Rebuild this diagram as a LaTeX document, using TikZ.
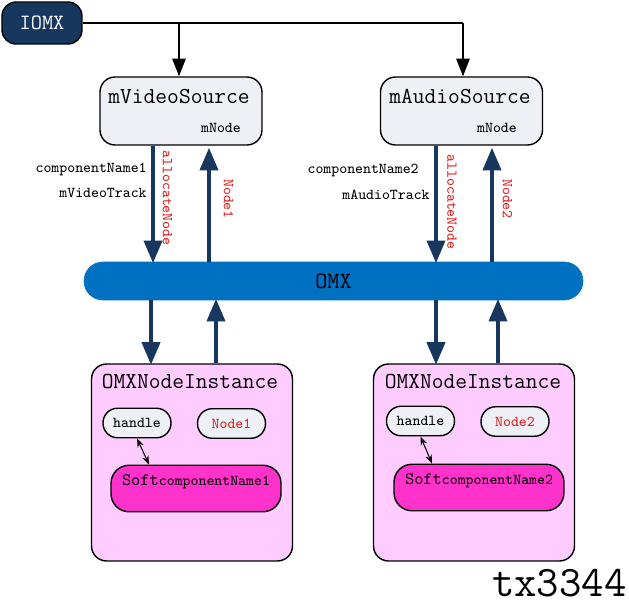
\documentclass[tikz,border=0pt]{standalone}
\usepackage{fontspec}
\usetikzlibrary{arrows.meta, positioning}

\definecolor{navy}{HTML}{17375E}
\definecolor{omxblue}{HTML}{0070C0}
\definecolor{boxgray}{HTML}{EEF0F5}
\definecolor{pinkbg}{HTML}{FFCCFF}
\definecolor{softpink}{HTML}{FF33CC}
\definecolor{lblred}{HTML}{E02020}

\begin{document}
\begin{tikzpicture}[x=0.02cm, y=-0.02cm,
  every node/.style={font=\ttfamily\fontsize{8.6}{10}\selectfont, inner sep=0pt},
  big/.style={font=\ttfamily\fontsize{13}{15}\selectfont},
  iomxbox/.style={draw, fill=navy, text=white, rounded corners=0.28cm,
    minimum width=1.6cm, minimum height=0.84cm, line width=0.8pt,
    font=\ttfamily\fontsize{12.4}{14}\selectfont},
  srcbox/.style={draw, fill=boxgray, rounded corners=0.3cm,
    minimum width=3.24cm, minimum height=1.36cm, line width=0.8pt},
  instbox/.style={draw, fill=pinkbg, rounded corners=0.3cm,
    minimum width=4.02cm, minimum height=3.94cm, line width=0.8pt},
  pill/.style={draw, fill=boxgray, rounded corners=0.29cm,
    minimum width=1.36cm, minimum height=0.59cm, line width=0.8pt},
  softbox/.style={draw, fill=softpink, rounded corners=0.36cm,
    minimum width=3.4cm, minimum height=0.93cm, line width=0.8pt},
  vlabel/.style={text=lblred, rotate=-90},
  feed/.style={line width=1.2pt, -{Triangle[length=10pt,width=7.5pt]}},
  flow/.style={draw=navy, line width=2.8pt,
    -{Triangle[length=13pt,width=10pt]}, shorten >=-1pt},
  link/.style={line width=0.6pt, {Stealth[length=5pt]}-{Stealth[length=5pt]}}]

\useasboundingbox (0,0) rectangle (629,615);

% define the boxes
\node[iomxbox] (iomx) at (42,23) {IOMX};
\node[srcbox] (vsrc) at (181,111) {};
\node[srcbox] (asrc) at (461.5,111) {};
\node[big] (vname) at (179,97) {mVideoSource};
\node[big] (aname) at (460,97) {mAudioSource};
\node (vmnode) at (221,128) {mNode};
\node (amnode) at (497,128) {mNode};

\node[draw=omxblue, fill=omxblue, rounded corners=0.38cm, minimum width=9.98cm,
  minimum height=0.76cm, font=\ttfamily\fontsize{13.3}{15}\selectfont]
  (omx) at (333.5,281) {OMX};

\node[instbox] (vinst) at (192,462.5) {};
\node[instbox] (ainst) at (474,462.5) {};
\node[big] (vinstname) at (190,382) {OMXNodeInstance};
\node[big] (ainstname) at (473,382) {OMXNodeInstance};

\node[pill] (vhandle) at (137,423) {handle};
\node[pill, text=lblred] (vnode) at (231.5,423.5) {Node1};
\node[softbox] (vsoft) at (196,488.5) {};
\node (vsoftname) at (196,482)
  {\fontsize{10}{12}\selectfont Soft\fontsize{8.6}{10}\selectfont componentName1};

\node[pill] (ahandle) at (420.5,421) {handle};
\node[pill, text=lblred] (anode) at (515,421.5) {Node2};
\node[softbox] (asoft) at (479,487.5) {};
\node (asoftname) at (479,481)
  {\fontsize{10}{12}\selectfont Soft\fontsize{8.6}{10}\selectfont componentName2};

% columns of the thick arrows
\coordinate (vdn) at (153,0);
\coordinate (vup) at (209,0);
\coordinate (adn) at (436,0);
\coordinate (aup) at (492,0);
\coordinate (vdn2) at (151,0);
\coordinate (vup2) at (216,0);
\coordinate (adn2) at (436,0);
\coordinate (aup2) at (498,0);
\coordinate (split) at (179,23);
\coordinate (corner) at (463,23);

% define the links
\draw[line width=1.2pt] (iomx.east) -- (corner);
\draw[feed] (corner) -- (asrc.north -| corner);
\draw[feed] (split) -- (vsrc.north -| split);

\draw[flow] (vsrc.south -| vdn) -- (omx.north -| vdn);
\draw[flow] (omx.north -| vup) -- ([yshift=-2pt]vsrc.south -| vup);
\draw[flow] (asrc.south -| adn) -- (omx.north -| adn);
\draw[flow] (omx.north -| aup) -- ([yshift=-2pt]asrc.south -| aup);

\draw[flow] (omx.south -| vdn2) -- (vinst.north -| vdn2);
\draw[flow] (vinst.north -| vup2) -- (omx.south -| vup2);
\draw[flow] (omx.south -| adn2) -- (ainst.north -| adn2);
\draw[flow] (ainst.north -| aup2) -- (omx.south -| aup2);

\draw[link] (vhandle.south) -- ([xshift=-0.94cm]vsoft.north);
\draw[link] (ahandle.south) -- ([xshift=-0.94cm]asoft.north);

% labels of the links
\node[anchor=east] (vcomp) at (147,169) {componentName1};
\node[anchor=east] (vtrack) at (147,193) {mVideoTrack};
\node[anchor=east] (acomp) at (419,170) {componentName2};
\node[anchor=east] (atrack) at (430,195) {mAudioTrack};
\node[vlabel] (valloc) at (167.5,198) {allocateNode};
\node[vlabel] (vnodelbl) at (228.5,199) {Node1};
\node[vlabel] (aalloc) at (452,202) {allocateNode};
\node[vlabel] (anodelbl) at (507.5,199) {Node2};

\node[anchor=east, font=\ttfamily\fontsize{24.8}{26}\selectfont] (mark) at (627,583) {tx3344};

\end{tikzpicture}
\end{document}
